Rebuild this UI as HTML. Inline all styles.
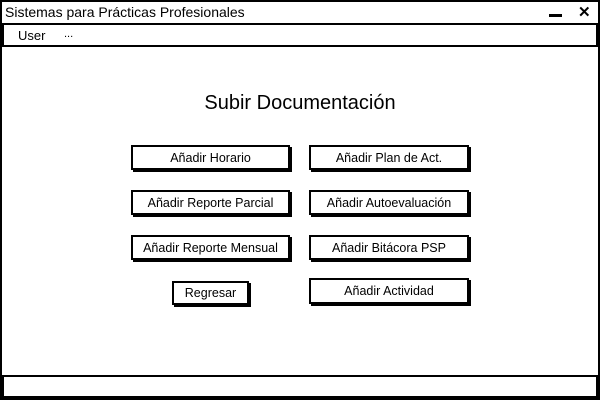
<!DOCTYPE html>
<html><head><meta charset="utf-8"><style>
*{margin:0;padding:0;box-sizing:border-box}
body{width:600px;height:400px;background:#fff;position:relative;font-family:"Liberation Sans",sans-serif;color:#000;overflow:hidden}
.box{position:absolute;border:2px solid #000;background:#fff}
.btn{position:absolute;border:2px solid #000;background:#fff;box-shadow:2px 2px 0 #000;font-size:12.5px;display:flex;align-items:center;justify-content:center}
</style></head><body>
<div class="box" style="left:0;top:0;width:600px;height:400px;border-width:2px"></div>
<div class="box" style="left:0;top:0;width:600px;height:25px;border-width:2px"></div>
<div style="position:absolute;left:5px;top:4px;font-size:14px">Sistemas para Prácticas Profesionales</div>
<div style="position:absolute;left:549px;top:14px;width:13px;height:3px;background:#000"></div>
<div style="position:absolute;left:578px;top:3px;font-size:15px;font-weight:bold">✕</div>
<div class="box" style="left:2px;top:23px;width:596px;height:24px;border-width:2px"></div>
<div style="position:absolute;left:18px;top:28px;font-size:13px">User</div>
<div style="position:absolute;left:64px;top:28px;font-size:11px">...</div>
<div class="box" style="left:2px;top:375px;width:596px;height:24px;border-width:2px;border-bottom-width:3px"></div>
<div style="position:absolute;left:0;width:600px;top:92px;text-align:center;font-size:20px">Subir Documentación</div>
<div class="btn" style="left:131px;top:145px;width:159px;height:25px">Añadir Horario</div>
<div class="btn" style="left:309px;top:145px;width:160px;height:25px">Añadir Plan de Act.</div>
<div class="btn" style="left:131px;top:190px;width:159px;height:25px">Añadir Reporte Parcial</div>
<div class="btn" style="left:309px;top:190px;width:160px;height:25px">Añadir Autoevaluación</div>
<div class="btn" style="left:131px;top:235px;width:159px;height:25px">Añadir Reporte Mensual</div>
<div class="btn" style="left:309px;top:235px;width:160px;height:25px">Añadir Bitácora PSP</div>
<div class="btn" style="left:172px;top:281px;width:77px;height:24px">Regresar</div>
<div class="btn" style="left:309px;top:278px;width:160px;height:26px">Añadir Actividad</div>
</body></html>
